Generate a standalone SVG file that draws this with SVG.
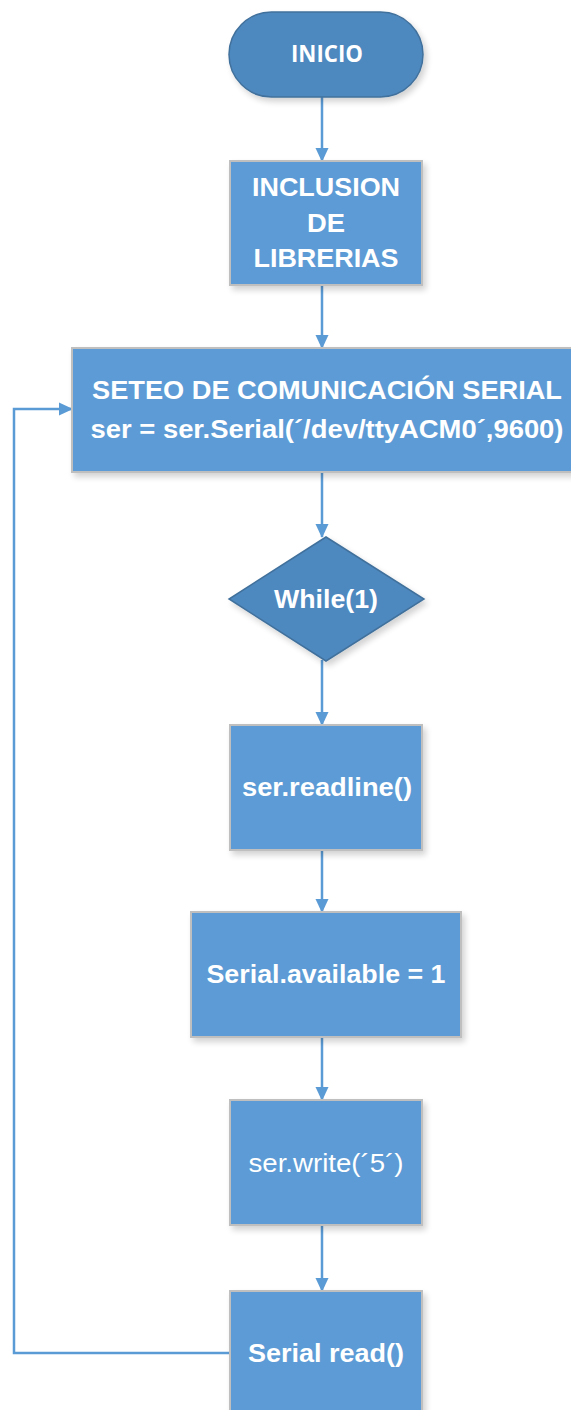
<svg xmlns="http://www.w3.org/2000/svg" width="571" height="1410" viewBox="0 0 571 1410">
<defs>
<filter id="sh" x="-10%" y="-10%" width="125%" height="130%">
<feGaussianBlur in="SourceAlpha" stdDeviation="3"/>
<feOffset dx="3" dy="4" result="b"/>
<feComponentTransfer><feFuncA type="linear" slope="0.18"/></feComponentTransfer>
<feMerge><feMergeNode/><feMergeNode in="SourceGraphic"/></feMerge>
</filter>
<marker id="ah" markerWidth="14" markerHeight="14" refX="13" refY="7" orient="auto" markerUnits="userSpaceOnUse" viewBox="0 0 14 14">
<path d="M0,0.5 L14,7 L0,13.5 Z" fill="#5b9bd5"/>
</marker>
</defs>
<style>
.box{fill:#5b9bd5;stroke:#bfbfbf;stroke-width:2}
.dark{fill:#4e88bf;stroke:#41719c;stroke-width:1.5}
.t{fill:#fff;font-family:"Liberation Sans",Arial,sans-serif;font-weight:bold;text-anchor:middle}
.c{fill:none;stroke:#5b9bd5;stroke-width:2.5}
</style>
<rect width="571" height="1410" fill="#fff"/>
<g id="connectors">
<line class="c" x1="322" y1="97" x2="322" y2="161" marker-end="url(#ah)"/>
<line class="c" x1="322" y1="285" x2="322" y2="348" marker-end="url(#ah)"/>
<line class="c" x1="322" y1="472" x2="322" y2="537" marker-end="url(#ah)"/>
<line class="c" x1="322" y1="660" x2="322" y2="725" marker-end="url(#ah)"/>
<line class="c" x1="322" y1="850" x2="322" y2="912" marker-end="url(#ah)"/>
<line class="c" x1="322" y1="1037" x2="322" y2="1100" marker-end="url(#ah)"/>
<line class="c" x1="322" y1="1225" x2="322" y2="1291" marker-end="url(#ah)"/>
<polyline class="c" points="231,1353 14,1353 14,409 72,409" marker-end="url(#ah)"/>
</g>
<g id="inicio">
<rect class="dark" x="229" y="12" width="194" height="85" rx="42.5" filter="url(#sh)"/>
<text class="t" x="327" y="62" font-size="23" textLength="72" lengthAdjust="spacingAndGlyphs" style="font-family:'Open Sans','Liberation Sans',sans-serif">INICIO</text>
</g>
<g id="inclusion">
<rect class="box" x="230" y="161" width="192" height="124" filter="url(#sh)"/>
<text class="t" x="326" y="196" font-size="26" textLength="148" lengthAdjust="spacingAndGlyphs">INCLUSION</text>
<text class="t" x="326" y="232" font-size="26" textLength="38" lengthAdjust="spacingAndGlyphs">DE</text>
<text class="t" x="326" y="267" font-size="26" textLength="145" lengthAdjust="spacingAndGlyphs">LIBRERIAS</text>
</g>
<g id="seteo">
<rect class="box" x="72" y="348" width="510" height="124" filter="url(#sh)"/>
<text class="t" x="327" y="399" font-size="25" textLength="470" lengthAdjust="spacingAndGlyphs">SETEO DE COMUNICACIÓN SERIAL</text>
<text class="t" x="327" y="438" font-size="25" textLength="473" lengthAdjust="spacingAndGlyphs">ser = ser.Serial(´/dev/ttyACM0´,9600)</text>
</g>
<g id="while">
<polygon class="dark" points="326,537 424,599 326,661 229,599" filter="url(#sh)"/>
<text class="t" x="326" y="608" font-size="25" textLength="104" lengthAdjust="spacingAndGlyphs">While(1)</text>
</g>
<g id="readline">
<rect class="box" x="230" y="725" width="192" height="125" filter="url(#sh)"/>
<text class="t" x="327" y="796" font-size="25" textLength="170" lengthAdjust="spacingAndGlyphs">ser.readline()</text>
</g>
<g id="available">
<rect class="box" x="191" y="912" width="270" height="125" filter="url(#sh)"/>
<text class="t" x="326" y="983" font-size="25" textLength="239" lengthAdjust="spacingAndGlyphs">Serial.available = 1</text>
</g>
<g id="write">
<rect class="box" x="230" y="1100" width="192" height="125" filter="url(#sh)"/>
<text class="t" x="326" y="1172" font-size="25" textLength="155" lengthAdjust="spacingAndGlyphs" style="font-weight:normal">ser.write(´5´)</text>
</g>
<g id="read">
<rect class="box" x="230" y="1291" width="192" height="125" filter="url(#sh)"/>
<text class="t" x="326" y="1362" font-size="25" textLength="156" lengthAdjust="spacingAndGlyphs">Serial read()</text>
</g>
</svg>
